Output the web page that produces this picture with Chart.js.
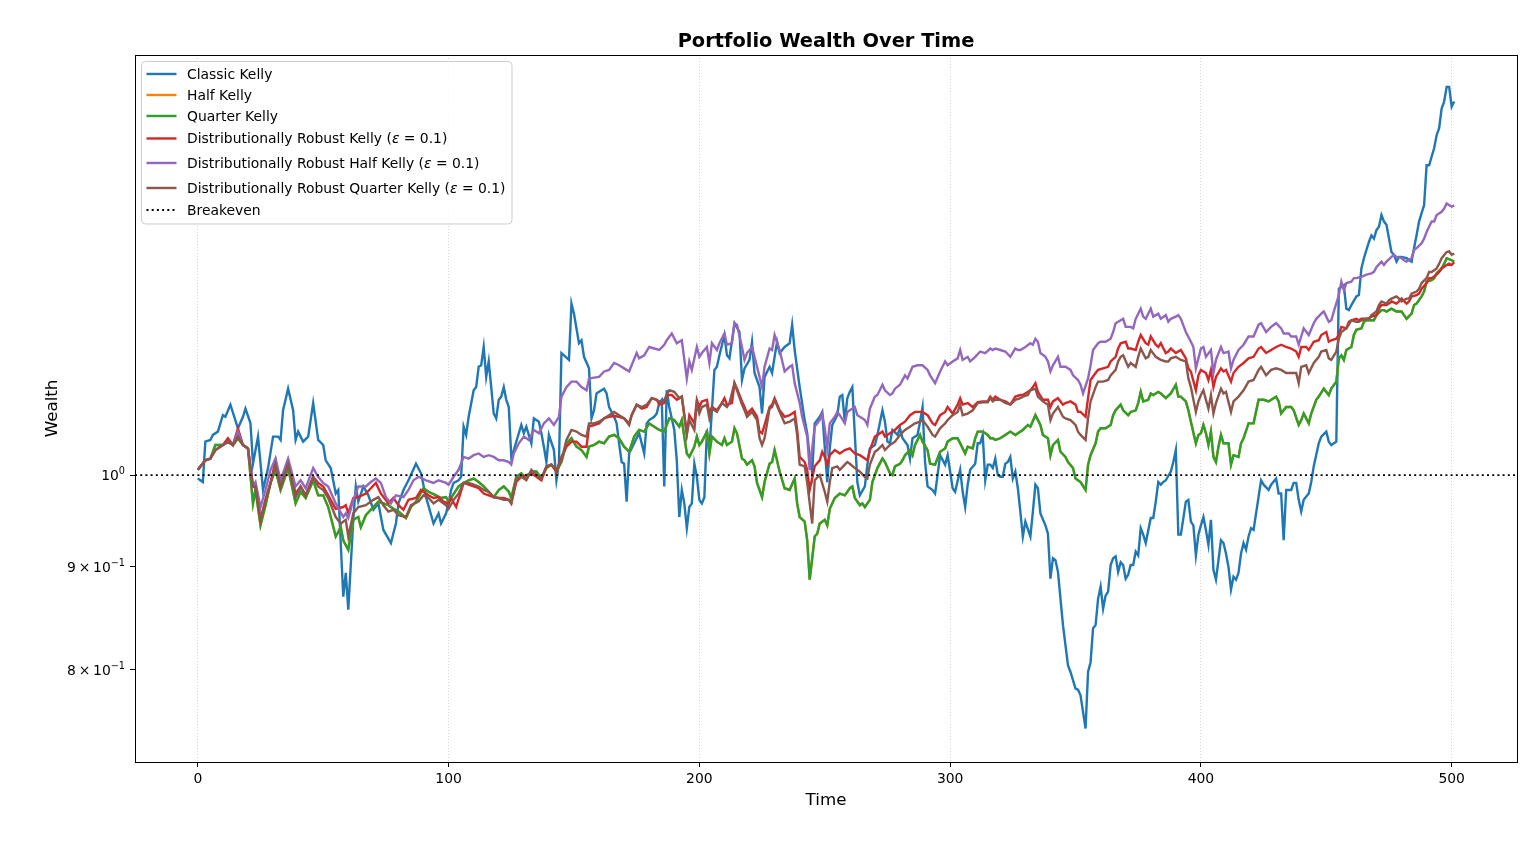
<!DOCTYPE html>
<html>
<head>
<meta charset="utf-8">
<title>Portfolio Wealth Over Time</title>
<script src="https://cdn.jsdelivr.net/npm/chart.js@4.4.0/dist/chart.umd.min.js"></script>
<style>
  html, body { margin: 0; padding: 0; background: #fff; }
  canvas { display: block; }
</style>
</head>
<body>
<canvas id="wealthChart" width="1536" height="850"></canvas>
<script>
// each curve at its own set of time steps
const classicTimes = [0,2,3,5,6,8,10,11,13,16,18,19,21,22,24,26,28,30,32,33,34,36,38,39,40,42,44,46,48,50,
  51,53,55,56,58,59,60,62,63,64,66,68,70,72,74,77,79,80,82,84,87,89,91,94,96,97,99,
  100,101,102,104,105,106,107,108,110,111,112,113,114,115,116,117,118,119,120,121,122,123,124,125,126,128,129,130,
  131,133,134,136,137,138,139,140,142,143,144,145,146,148,149,150,152,153,154,156,157,158,159,160,
  162,163,164,166,167,168,169,170,171,172,174,175,176,178,179,180,182,183,184,185,186,187,188,190,
  191,192,193,194,195,196,197,198,199,200,201,202,203,204,205,206,207,208,210,211,212,214,216,217,218,220,
  221,222,224,225,226,228,229,230,231,232,234,236,237,238,240,242,243,244,245,246,248,249,251,252,253,255,
  256,257,258,259,260,261,262,263,264,266,267,268,270,271,273,274,275,276,277,279,280,281,283,284,285,287,
  288,289,290,291,293,294,295,296,298,299,300,301,302,304,305,306,307,308,310,311,312,313,314,315,316,317,
  318,319,320,321,322,323,324,325,326,327,328,329,330,332,333,334,335,336,338,339,340,341,342,343,344,345,
  347,348,350,351,352,354,355,356,357,358,359,360,361,362,363,364,365,366,367,368,369,370,371,372,373,374,
  375,376,377,378,380,381,382,383,384,385,386,388,389,390,391,392,394,395,396,397,398,399,400,401,402,403,
  404,405,406,407,408,409,410,411,412,413,414,415,416,417,418,419,420,421,422,424,425,427,428,430,431,432,
  433,434,436,437,438,439,440,441,443,444,445,447,448,450,451,452,454,455,457,458,459,460,462,463,464,465,
  467,468,469,470,471,472,473,474,476,477,478,479,480,482,484,485,486,487,488,489,490,491,493,494,495,496,
  497,498,499,500,501];

const classicKelly = [0.996,0.992,1.039,1.041,1.047,1.051,1.071,1.069,1.084,1.055,1.069,1.079,1.061,1.013,1.045,0.983,1.008,1.045,1.045,1.041,1.077,1.104,1.077,1.041,1.051,1.039,1.045,1.086,1.041,1.035,
  1.017,1.008,0.979,0.983,0.870,0.894,0.857,0.950,0.987,0.970,0.987,0.977,0.961,0.968,0.939,0.925,0.946,0.968,0.983,0.994,1.013,1.002,0.975,0.946,0.957,0.946,0.957,
  0.968,0.983,0.991,0.994,0.998,1.057,1.047,1.069,1.102,1.106,1.132,1.134,1.158,1.119,1.139,1.106,1.073,1.067,1.090,1.094,1.106,1.090,1.081,1.021,1.029,1.049,1.059,1.049,
  1.057,1.037,1.067,1.063,1.049,1.033,1.015,1.047,1.029,0.994,1.013,1.150,1.147,1.141,1.217,1.203,1.163,1.167,1.145,1.130,1.067,1.077,1.098,1.100,
  1.104,1.098,1.081,1.069,1.061,1.037,1.015,1.013,0.970,1.025,1.037,1.043,1.049,1.025,1.061,1.065,1.069,1.073,1.086,1.090,0.987,1.102,1.081,1.053,
  1.017,0.953,0.983,0.968,0.941,0.964,0.968,1.013,0.998,0.972,0.968,0.975,1.053,1.029,1.077,1.128,1.132,1.147,1.174,1.147,1.143,1.190,1.178,1.115,1.130,1.141,
  1.165,1.124,1.106,1.073,1.119,1.132,1.124,1.145,1.165,1.150,1.158,1.163,1.188,1.154,1.106,1.065,1.049,1.021,1.002,1.061,1.069,1.075,0.992,1.031,1.059,1.071,
  1.094,1.096,1.063,1.092,1.100,1.106,1.047,0.992,0.977,0.987,1.012,1.031,1.035,1.047,1.077,1.063,1.039,1.037,1.053,1.047,1.055,1.043,1.035,1.019,1.043,1.047,
  1.063,1.081,1.015,0.987,0.983,0.979,1.000,1.023,1.012,1.023,1.004,0.985,0.981,1.006,0.981,0.964,0.989,1.006,1.013,1.037,1.037,1.047,0.994,1.012,1.012,1.008,
  1.019,1.000,0.998,0.998,1.013,1.015,1.021,0.996,1.004,0.985,0.959,0.932,0.948,0.932,0.959,0.989,0.985,0.957,0.944,0.935,0.888,0.909,0.907,0.895,0.868,0.842,
  0.804,0.798,0.783,0.782,0.777,0.748,0.798,0.807,0.839,0.842,0.868,0.880,0.858,0.871,0.875,0.902,0.909,0.911,0.895,0.905,0.902,0.888,0.892,0.902,0.902,0.916,
  0.912,0.941,0.934,0.925,0.952,0.952,0.970,0.992,0.989,0.992,0.994,1.004,1.015,1.029,0.934,0.934,0.970,0.972,0.948,0.944,0.912,0.934,0.944,0.953,0.939,0.923,
  0.950,0.897,0.887,0.907,0.928,0.925,0.914,0.900,0.877,0.890,0.887,0.894,0.914,0.925,0.918,0.932,0.941,0.939,0.957,0.994,0.989,0.983,0.989,0.996,0.979,0.979,
  0.928,0.983,0.983,0.991,0.991,0.972,0.959,0.972,0.979,0.992,1.010,1.037,1.045,1.051,1.039,1.035,1.039,1.238,1.243,1.210,1.208,1.215,1.227,1.229,1.267,1.282,
  1.306,1.316,1.311,1.324,1.329,1.347,1.337,1.332,1.291,1.287,1.277,1.284,1.284,1.282,1.277,1.297,1.316,1.337,1.350,1.362,1.426,1.426,1.454,1.476,1.488,1.522,
  1.534,1.560,1.560,1.525,1.534];

const quarterTimes = [0,3,5,7,10,12,14,16,18,20,22,23,25,27,29,31,33,36,39,41,43,46,48,
  50,52,55,57,58,60,62,64,65,67,70,72,74,76,78,80,83,85,87,90,92,95,97,99,
  100,104,106,108,110,112,114,116,118,120,122,124,125,127,129,131,133,135,137,139,141,143,145,147,149,
  151,153,155,156,158,160,162,164,166,168,170,172,174,176,178,180,182,184,186,188,190,192,193,195,196,198,199,
  200,201,203,204,205,207,209,210,211,213,214,215,217,218,219,221,222,223,224,225,226,228,229,230,232,234,236,238,239,240,242,243,244,246,247,248,
  250,251,252,254,256,258,260,261,262,264,265,266,268,269,271,273,274,276,277,278,280,281,282,284,285,286,288,289,291,292,294,296,298,299,
  301,303,305,306,307,309,310,311,313,315,316,317,318,320,322,324,326,327,329,331,332,334,336,337,339,340,341,343,344,346,347,349,350,
  351,352,354,355,356,358,359,360,362,364,365,366,368,369,371,372,374,375,376,377,379,380,381,383,384,386,388,390,391,392,394,395,396,398,399,400,
  401,402,403,404,405,406,407,408,409,411,412,413,415,416,417,419,421,423,425,427,428,430,431,432,434,436,437,439,440,441,443,444,446,447,449,
  451,452,454,455,456,457,458,460,461,462,464,465,466,468,469,470,472,473,474,476,477,478,480,481,482,484,485,486,488,489,490,492,493,494,496,497,498,500,501];

const quarterKelly = [1.006,1.017,1.019,1.035,1.035,1.039,1.035,1.043,1.035,1.031,0.968,0.983,0.944,0.966,0.991,1.006,0.983,1.008,0.968,0.981,0.974,0.994,0.977,
  0.977,0.964,0.932,0.942,0.928,0.918,0.950,0.953,0.942,0.955,0.964,0.970,0.968,0.966,0.962,0.959,0.952,0.964,0.970,0.985,0.981,0.977,0.974,0.975,
  0.970,0.987,0.991,0.994,0.996,0.992,0.987,0.981,0.975,0.983,0.987,0.981,0.974,0.998,1.002,0.996,1.004,1.004,0.996,1.008,1.012,1.004,1.015,1.037,1.043,
  1.033,1.029,1.021,1.033,1.035,1.039,1.037,1.045,1.047,1.043,1.033,1.027,1.045,1.053,1.051,1.061,1.057,1.053,1.051,1.067,1.065,1.057,1.065,1.025,1.021,1.033,1.045,
  1.035,1.039,1.051,1.025,1.045,1.039,1.035,1.043,1.035,1.039,1.055,1.049,1.019,1.017,1.012,1.017,1.010,0.991,0.983,0.975,0.992,1.013,1.015,1.029,1.004,0.985,0.983,0.996,0.968,0.953,0.948,0.928,0.887,0.932,0.935,0.946,
  0.950,0.944,0.962,0.974,0.979,0.977,0.985,0.987,0.974,0.966,0.968,0.964,0.972,0.992,1.008,1.019,1.015,1.002,1.000,1.010,1.013,1.017,1.023,1.029,1.023,1.035,1.047,1.039,1.029,1.013,1.012,1.027,1.031,1.039,
  1.043,1.043,1.031,1.025,1.033,1.031,1.043,1.051,1.051,1.047,1.043,1.043,1.041,1.043,1.047,1.051,1.047,1.049,1.053,1.059,1.057,1.071,1.059,1.047,1.043,1.023,1.035,1.041,1.027,1.021,1.015,1.008,0.996,
  0.994,0.992,0.983,1.012,1.023,1.037,1.051,1.055,1.055,1.059,1.071,1.077,1.084,1.077,1.071,1.075,1.077,1.086,1.100,1.088,1.090,1.098,1.096,1.100,1.098,1.092,1.098,1.109,1.094,1.094,1.088,1.077,1.063,1.037,1.047,1.049,
  1.059,1.049,1.035,1.051,1.021,1.015,1.033,1.047,1.037,1.037,1.012,1.023,1.021,1.037,1.043,1.061,1.061,1.090,1.090,1.088,1.090,1.094,1.088,1.073,1.081,1.081,1.077,1.059,1.065,1.073,1.061,1.073,1.090,1.094,1.104,
  1.096,1.104,1.113,1.143,1.147,1.141,1.154,1.158,1.174,1.181,1.183,1.192,1.194,1.194,1.194,1.201,1.208,1.208,1.206,1.210,1.208,1.206,1.206,1.201,1.196,1.203,1.215,1.217,1.227,1.234,1.248,1.250,1.253,1.260,1.267,1.274,1.282,1.279,1.277];

// the orange Half Kelly curve is hidden: in the picture it lies exactly under Quarter Kelly
const halfTimes = quarterTimes;
const halfKelly = quarterKelly;

const robustTimes = [0,3,5,7,10,12,14,16,18,20,22,23,25,27,29,31,33,36,39,41,43,46,48,
  50,52,55,58,59,60,62,64,67,69,71,73,76,78,80,82,84,87,89,92,94,96,98,
  100,101,103,106,108,110,112,114,116,118,120,122,124,125,127,129,131,133,135,137,139,141,143,145,147,149,
  151,153,155,156,158,160,162,164,166,168,170,172,173,175,177,179,181,183,184,186,187,189,191,193,195,196,198,199,
  200,201,203,204,205,207,209,210,211,213,214,215,217,218,219,221,223,224,225,226,228,229,230,232,234,236,238,239,240,242,243,244,246,248,249,
  250,251,252,254,256,258,260,262,264,266,267,268,270,271,273,274,276,278,280,282,284,286,288,289,291,293,294,296,298,299,
  301,303,304,305,307,309,311,313,315,316,317,318,320,322,324,326,328,329,330,332,333,334,335,337,339,340,341,343,345,346,348,350,
  351,352,354,355,356,358,359,361,363,364,366,367,368,370,371,372,374,375,376,378,379,380,382,383,384,386,387,388,390,392,394,395,396,398,399,400,
  402,403,404,405,406,408,409,410,412,413,415,417,419,421,423,424,426,428,430,432,434,436,438,439,440,442,443,445,447,448,450,
  451,452,454,455,456,458,459,460,462,463,464,466,467,468,470,471,472,474,475,476,478,479,480,482,483,484,486,487,488,490,491,492,494,495,496,498,499,500,501];

const robustKelly = [1.006,1.017,1.019,1.029,1.035,1.043,1.035,1.055,1.035,1.031,0.987,0.987,0.950,0.972,0.991,1.017,0.987,1.015,0.979,0.987,0.977,0.998,0.991,
  0.987,0.977,0.962,0.964,0.966,0.957,0.974,0.975,0.979,0.985,0.991,0.979,0.968,0.974,0.966,0.961,0.972,0.974,0.983,0.977,0.974,0.975,0.970,
  0.968,0.974,0.964,0.991,0.989,0.987,0.985,0.979,0.977,0.975,0.974,0.974,0.972,0.968,0.992,0.998,1.000,1.002,0.998,0.994,1.010,1.012,1.004,1.021,1.033,1.039,
  1.039,1.033,1.033,1.057,1.059,1.061,1.067,1.069,1.070,1.069,1.067,1.061,1.071,1.084,1.079,1.081,1.092,1.090,1.084,1.086,1.096,1.096,1.090,1.094,1.049,1.071,1.061,1.090,
  1.081,1.088,1.090,1.073,1.081,1.077,1.086,1.092,1.084,1.086,1.111,1.104,1.088,1.081,1.073,1.079,1.069,1.051,1.049,1.059,1.081,1.084,1.092,1.077,1.069,1.071,1.075,1.053,1.021,1.015,1.006,0.983,1.010,1.017,1.027,
  1.021,1.012,1.023,1.029,1.025,1.029,1.031,1.025,1.023,1.019,1.017,1.029,1.045,1.047,1.051,1.045,1.049,1.053,1.059,1.063,1.071,1.075,1.075,1.075,1.071,1.061,1.059,1.071,1.075,1.081,
  1.073,1.084,1.092,1.084,1.086,1.081,1.087,1.088,1.088,1.094,1.090,1.094,1.090,1.088,1.084,1.094,1.096,1.096,1.098,1.102,1.106,1.111,1.100,1.090,1.090,1.081,1.088,1.092,1.084,1.086,1.088,1.084,
  1.075,1.075,1.069,1.092,1.115,1.124,1.128,1.130,1.132,1.139,1.145,1.156,1.163,1.165,1.156,1.156,1.154,1.165,1.174,1.163,1.161,1.172,1.161,1.158,1.163,1.150,1.152,1.156,1.150,1.154,1.143,1.130,1.126,1.102,1.121,1.128,
  1.124,1.115,1.128,1.106,1.119,1.130,1.126,1.128,1.113,1.124,1.132,1.137,1.143,1.145,1.156,1.158,1.150,1.154,1.158,1.161,1.158,1.156,1.152,1.145,1.158,1.158,1.154,1.165,1.167,1.174,1.178,
  1.165,1.167,1.169,1.174,1.185,1.183,1.192,1.194,1.196,1.194,1.196,1.196,1.197,1.199,1.201,1.210,1.215,1.215,1.217,1.220,1.217,1.220,1.224,1.217,1.220,1.227,1.229,1.231,1.238,1.246,1.253,1.253,1.258,1.262,1.267,1.272,1.274,1.272,1.276];

const robustHalfTimes = [0,3,5,7,10,12,14,16,18,20,22,23,25,27,29,31,33,36,39,41,43,46,48,
  50,52,55,58,59,60,62,64,67,69,71,73,75,77,79,82,84,86,88,91,94,96,99,
  100,102,104,106,108,110,112,114,116,118,120,122,124,125,126,128,130,132,134,136,138,140,142,144,145,147,149,
  151,153,155,156,158,160,162,164,166,168,170,172,173,175,176,178,180,182,184,186,187,189,191,193,195,196,197,199,
  200,201,203,204,205,207,208,210,211,213,214,215,217,218,219,221,223,224,225,226,228,229,230,232,234,236,237,238,240,241,243,244,246,248,249,
  250,251,252,254,255,256,258,259,260,262,263,264,266,267,268,270,271,273,274,276,277,278,280,282,283,285,287,289,291,292,294,296,298,299,
  301,303,304,305,307,308,310,312,314,316,317,318,320,322,324,326,327,328,330,332,333,334,335,336,338,339,340,341,343,344,346,348,349,
  351,352,353,355,356,357,359,360,362,364,365,366,368,369,370,372,373,374,376,377,378,380,381,383,384,386,387,388,390,391,392,394,396,397,398,399,400,
  401,402,404,405,406,408,409,411,412,413,415,417,419,421,423,424,426,428,430,432,433,435,436,438,439,440,441,443,445,446,448,449,
  451,452,453,455,456,457,458,460,461,462,464,466,468,469,470,472,473,474,476,477,478,480,481,482,484,485,486,488,489,490,492,493,494,496,497,498,500,501];

const robustHalfKelly = [1.006,1.017,1.019,1.029,1.035,1.039,1.035,1.051,1.035,1.031,0.987,0.992,0.964,0.983,1.006,1.019,0.994,1.019,0.987,0.994,0.985,1.008,0.998,
  0.991,0.987,0.968,0.953,0.957,0.952,0.972,0.987,0.987,0.992,0.996,0.991,0.975,0.968,0.977,0.975,0.983,0.994,0.998,0.994,0.991,0.994,0.991,
  0.989,0.998,1.006,1.021,1.019,1.023,1.025,1.021,1.023,1.021,1.017,1.017,1.015,1.012,1.025,1.037,1.045,1.041,1.053,1.049,1.061,1.067,1.059,1.069,1.094,1.106,1.113,
  1.113,1.106,1.102,1.117,1.118,1.119,1.126,1.128,1.137,1.134,1.130,1.126,1.134,1.150,1.143,1.147,1.158,1.156,1.154,1.161,1.167,1.176,1.163,1.167,1.117,1.139,1.128,1.158,
  1.145,1.150,1.158,1.137,1.163,1.154,1.163,1.176,1.161,1.163,1.190,1.188,1.158,1.141,1.150,1.158,1.132,1.119,1.106,1.132,1.156,1.154,1.174,1.154,1.126,1.132,1.134,1.111,1.086,1.069,1.045,1.006,1.057,1.065,1.073,
  1.055,1.031,1.061,1.069,1.075,1.071,1.061,1.075,1.077,1.081,1.071,1.069,1.065,1.059,1.079,1.094,1.096,1.109,1.102,1.096,1.098,1.104,1.109,1.121,1.117,1.132,1.134,1.134,1.128,1.121,1.111,1.126,1.139,1.134,
  1.139,1.143,1.154,1.141,1.145,1.139,1.145,1.152,1.150,1.156,1.154,1.156,1.154,1.152,1.145,1.156,1.154,1.154,1.158,1.163,1.161,1.169,1.165,1.150,1.145,1.139,1.126,1.134,1.145,1.132,1.132,1.128,1.121,
  1.115,1.109,1.098,1.117,1.134,1.154,1.163,1.165,1.165,1.169,1.178,1.190,1.194,1.196,1.185,1.185,1.183,1.196,1.210,1.199,1.196,1.210,1.199,1.203,1.196,1.201,1.192,1.196,1.199,1.201,1.196,1.178,1.165,1.158,1.130,1.143,1.156,
  1.158,1.145,1.154,1.124,1.141,1.158,1.150,1.152,1.130,1.141,1.154,1.161,1.172,1.172,1.188,1.190,1.178,1.185,1.190,1.183,1.176,1.176,1.172,1.172,1.161,1.172,1.183,1.174,1.190,1.196,1.203,1.206,
  1.192,1.194,1.206,1.229,1.248,1.236,1.246,1.248,1.253,1.253,1.255,1.258,1.260,1.262,1.269,1.277,1.272,1.277,1.284,1.287,1.284,1.282,1.279,1.277,1.282,1.294,1.297,1.304,1.311,1.321,1.337,1.337,1.347,1.352,1.357,1.365,1.360,1.362];

const robustQuarterTimes = [0,3,5,7,10,12,14,16,18,20,22,23,25,27,29,31,33,36,39,41,43,46,48,
  50,52,55,57,59,60,62,64,67,70,72,74,76,78,80,83,85,88,90,92,94,96,99,
  100,102,104,106,108,110,112,114,116,118,120,122,124,125,127,129,131,133,135,137,139,141,143,145,147,149,
  151,153,155,156,158,160,162,164,166,168,170,172,173,175,177,179,181,183,185,186,188,190,192,193,195,196,198,199,
  200,201,203,204,205,207,209,211,212,214,215,217,218,219,221,223,224,225,226,228,229,230,232,234,236,238,239,240,242,243,245,246,248,
  250,251,252,253,255,256,258,259,260,262,264,266,267,268,270,271,273,274,276,278,280,282,284,286,288,289,291,293,294,296,298,299,
  301,303,304,305,307,309,311,313,315,316,317,318,320,322,324,326,328,329,331,332,334,335,337,339,340,341,343,345,346,348,350,
  351,352,354,355,356,358,359,361,363,364,366,367,368,369,371,372,374,375,376,378,379,380,382,383,384,386,387,388,390,392,394,395,396,398,399,400,
  401,402,403,404,405,406,408,409,410,412,413,415,417,419,421,423,424,426,428,430,432,434,436,438,439,440,442,443,445,447,448,450,
  451,452,454,455,456,458,459,460,462,463,464,466,467,468,470,471,472,474,475,476,478,479,480,482,483,484,486,487,488,490,491,492,494,495,496,498,499,500,501];

const robustQuarterKelly = [1.006,1.017,1.019,1.029,1.035,1.039,1.035,1.045,1.035,1.031,0.987,0.987,0.950,0.972,0.991,1.012,0.987,1.013,0.975,0.987,0.977,0.998,0.987,
  0.983,0.974,0.953,0.946,0.950,0.932,0.957,0.964,0.966,0.972,0.975,0.966,0.959,0.961,0.955,0.953,0.966,0.970,0.977,0.974,0.968,0.972,0.966,
  0.962,0.972,0.979,0.991,0.991,0.989,0.987,0.983,0.981,0.975,0.974,0.972,0.972,0.968,0.996,0.998,0.994,1.006,1.000,0.996,1.010,1.012,1.006,1.017,1.041,1.053,
  1.051,1.047,1.045,1.061,1.061,1.063,1.067,1.071,1.075,1.071,1.067,1.059,1.071,1.084,1.081,1.084,1.092,1.090,1.086,1.090,1.102,1.100,1.092,1.094,1.047,1.065,1.053,1.086,
  1.073,1.081,1.084,1.067,1.079,1.075,1.086,1.081,1.086,1.111,1.102,1.084,1.077,1.069,1.075,1.065,1.043,1.035,1.043,1.079,1.081,1.090,1.075,1.061,1.063,1.067,1.047,1.012,1.010,0.991,0.946,0.994,1.000,
  0.981,0.970,0.992,1.008,1.010,1.006,1.012,1.015,1.013,1.008,1.004,0.998,0.996,1.012,1.027,1.029,1.035,1.029,1.035,1.039,1.047,1.053,1.057,1.061,1.063,1.065,1.057,1.047,1.045,1.055,1.061,1.065,
  1.071,1.075,1.084,1.071,1.073,1.077,1.086,1.087,1.087,1.092,1.088,1.090,1.090,1.086,1.084,1.090,1.092,1.094,1.096,1.102,1.104,1.094,1.088,1.084,1.065,1.073,1.081,1.069,1.067,1.065,1.059,
  1.051,1.047,1.041,1.067,1.088,1.106,1.113,1.113,1.115,1.121,1.128,1.139,1.145,1.147,1.132,1.137,1.132,1.145,1.156,1.143,1.145,1.154,1.145,1.143,1.141,1.139,1.139,1.143,1.145,1.141,1.139,1.117,1.106,1.075,1.088,1.096,
  1.102,1.090,1.079,1.096,1.073,1.086,1.104,1.098,1.100,1.075,1.088,1.094,1.102,1.113,1.115,1.128,1.132,1.121,1.128,1.130,1.128,1.124,1.124,1.124,1.111,1.132,1.134,1.124,1.137,1.145,1.152,1.154,
  1.143,1.141,1.152,1.169,1.178,1.183,1.188,1.194,1.192,1.192,1.194,1.196,1.196,1.201,1.206,1.215,1.220,1.217,1.222,1.224,1.227,1.224,1.220,1.224,1.224,1.231,1.234,1.238,1.246,1.253,1.262,1.262,1.267,1.274,1.282,1.291,1.292,1.287,1.289];

const seriesLabels = [
  'Classic Kelly',
  'Half Kelly',
  'Quarter Kelly',
  'Distributionally Robust Kelly (ε = 0.1)',
  'Distributionally Robust Half Kelly (ε = 0.1)',
  'Distributionally Robust Quarter Kelly (ε = 0.1)'
];
const seriesTimes = [classicTimes, halfTimes, quarterTimes, robustTimes, robustHalfTimes, robustQuarterTimes];
const seriesValues = [classicKelly, halfKelly, quarterKelly, robustKelly, robustHalfKelly, robustQuarterKelly];
const seriesColors = ['#1f77b4', '#ff7f0e', '#2ca02c', '#d62728', '#9467bd', '#8c564b'];

const breakevenLevel = 1;
const xRange = [-25.05, 526.05];
const yRange = [0.7198, 1.6181];
const xTicks = [0, 100, 200, 300, 400, 500];
const yTicks = [0.8, 0.9, 1];
// [mantissa part, exponent] as matplotlib writes them
const yTickLabels = [['8\u2009×\u200910', '−1'], ['9\u2009×\u200910', '−1'], ['10', '0']];

const FONT = 'DejaVu Sans';
Chart.defaults.font.family = FONT;
Chart.defaults.color = '#000';

const datasets = seriesValues.map(function (vals, i) {
  const ts = seriesTimes[i];
  return {
    label: seriesLabels[i],
    data: ts.map((t, j) => ({ x: t, y: vals[j] })),
    borderColor: seriesColors[i],
    backgroundColor: seriesColors[i],
    borderWidth: 2.4,
    pointRadius: 0,
    tension: 0,
    fill: false,
    order: 10 - i   // matplotlib draws later series on top
  };
});
datasets.push({
  label: 'Breakeven',
  data: [{ x: xRange[0], y: breakevenLevel }, { x: xRange[1], y: breakevenLevel }],
  borderColor: '#000',
  backgroundColor: '#000',
  borderWidth: 1.8,
  borderDash: [2, 3.2],
  pointRadius: 0,
  fill: false,
  order: 0
});

// black box round the plot area + y tick labels with superscripts
const framePlugin = {
  id: 'frame',
  afterDatasetsDraw(chart) {
    const a = chart.chartArea;
    const ctx = chart.ctx;
    ctx.save();
    ctx.strokeStyle = '#000';
    ctx.lineWidth = 1;
    ctx.strokeRect(Math.round(a.left) + 0.5, Math.round(a.top) + 0.5,
      Math.round(a.right - a.left), Math.round(a.bottom - a.top));

    const yScale = chart.scales.y;
    ctx.fillStyle = '#000';
    ctx.textBaseline = 'alphabetic';
    ctx.textAlign = 'left';
    yTicks.forEach(function (v, i) {
      const py = yScale.getPixelForValue(v);
      const base = yTickLabels[i][0], sup = yTickLabels[i][1];
      ctx.font = '13.9px "' + FONT + '"';
      const wb = ctx.measureText(base).width;
      ctx.font = '9.7px "' + FONT + '"';
      const ws = ctx.measureText(sup).width;
      const right = a.left - 10;
      const x = right - wb - ws;
      ctx.font = '13.9px "' + FONT + '"';
      ctx.fillText(base, x, py + 5);
      ctx.font = '9.7px "' + FONT + '"';
      ctx.fillText(sup, x + wb, py - 1);
    });
    ctx.restore();
  }
};

// matplotlib style legend box in the upper left corner
const boxLegendPlugin = {
  id: 'boxLegend',
  afterDraw(chart) {
    const ctx = chart.ctx;
    const a = chart.chartArea;
    const x0 = a.left + 6.5, y0 = a.top + 6.5, w = 370.5, h = 162.5, r = 4;
    const rows = [12.5, 33.5, 54.5, 77, 101.5, 126.5, 148.5];

    ctx.save();
    ctx.beginPath();
    ctx.moveTo(x0 + r, y0);
    ctx.arcTo(x0 + w, y0, x0 + w, y0 + h, r);
    ctx.arcTo(x0 + w, y0 + h, x0, y0 + h, r);
    ctx.arcTo(x0, y0 + h, x0, y0, r);
    ctx.arcTo(x0, y0, x0 + w, y0, r);
    ctx.closePath();
    ctx.fillStyle = 'rgba(255,255,255,0.8)';
    ctx.fill();
    ctx.strokeStyle = '#cccccc';
    ctx.lineWidth = 1;
    ctx.stroke();

    chart.data.datasets.forEach(function (ds, i) {
      const y = y0 + rows[i];
      ctx.beginPath();
      ctx.setLineDash(ds.borderDash || []);
      ctx.strokeStyle = ds.borderColor;
      ctx.lineWidth = ds.borderWidth;
      ctx.moveTo(x0 + 5, y);
      ctx.lineTo(x0 + 35, y);
      ctx.stroke();
      ctx.setLineDash([]);

      // label, with the epsilon in italics like mathtext
      ctx.fillStyle = '#000';
      ctx.textBaseline = 'middle';
      ctx.textAlign = 'left';
      let tx = x0 + 45.5;
      const parts = ds.label.split('ε');
      parts.forEach(function (part, k) {
        ctx.font = '13.9px "' + FONT + '"';
        ctx.fillText(part, tx, y + 1);
        tx += ctx.measureText(part).width;
        if (k < parts.length - 1) {
          ctx.font = 'italic 13.9px "' + FONT + '"';
          ctx.fillText('ε', tx, y + 1);
          tx += ctx.measureText('ε').width;
        }
      });
    });
    ctx.restore();
  }
};

new Chart(document.getElementById('wealthChart'), {
  type: 'line',
  data: { datasets: datasets },
  options: {
    responsive: false,
    animation: false,
    devicePixelRatio: 1,
    layout: { padding: { left: 0, right: 19, top: 0, bottom: 0 } },
    plugins: {
      legend: { display: false },
      tooltip: { enabled: false },
      title: {
        display: true,
        text: 'Portfolio Wealth Over Time',
        fullSize: false,
        color: '#000',
        font: { size: 19.4, weight: 'bold' },
        padding: { top: 30.2, bottom: 1.5 }
      }
    },
    scales: {
      x: {
        type: 'linear',
        bounds: 'data',
        min: xRange[0],
        max: xRange[1],
        afterBuildTicks: function (scale) {
          scale.ticks = xTicks.map(v => ({ value: v }));
        },
        afterFit: function (scale) { scale.height = 88; },
        ticks: { autoSkip: false, maxRotation: 0, padding: 4, color: '#000', font: { size: 13.9 } },
        grid: {
          color: 'rgba(176,176,176,0.7)',
          lineWidth: 0.8,
          tickColor: '#000',
          tickLength: 5,
          tickWidth: 1
        },
        border: { display: false, dash: [1, 2] },
        title: { display: true, text: 'Time', color: '#000', font: { size: 16.7 }, padding: { top: 0, bottom: 39 } }
      },
      y: {
        type: 'logarithmic',
        bounds: 'data',
        min: yRange[0],
        max: yRange[1],
        afterBuildTicks: function (scale) {
          scale.ticks = yTicks.map(v => ({ value: v }));
        },
        afterFit: function (scale) { scale.width = 135; },
        ticks: { display: false, autoSkip: false },
        grid: { drawOnChartArea: false, tickColor: '#000', tickLength: 5, tickWidth: 1 },
        border: { display: false },
        title: { display: true, text: 'Wealth', color: '#000', font: { size: 16.7 }, padding: { top: 43, bottom: 0 } }
      }
    }
  },
  plugins: [framePlugin, boxLegendPlugin]
});
</script>
</body>
</html>
